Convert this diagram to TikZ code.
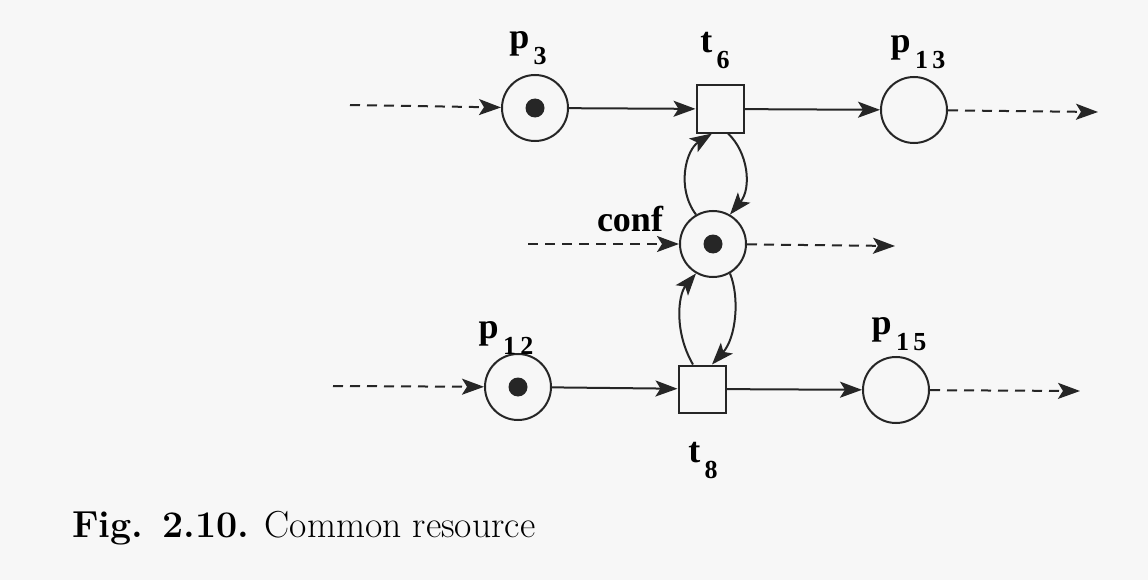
\documentclass[tikz,border=0pt]{standalone}
\usepackage{fontspec}
\newfontfamily\lblfont{Liberation Serif Bold}
\usetikzlibrary{arrows.meta}
\newcommand\mylbl[2]{{\lblfont\fontsize{18}{18}\selectfont #1}\raisebox{-8pt}{\lblfont\fontsize{13}{13}\selectfont\,#2}}
\tikzset{
  place/.style={circle,draw=black!85,line width=1pt,minimum size=33pt,inner sep=0pt},
  trans/.style={rectangle,draw=black!85,line width=1pt,minimum size=23.5pt,inner sep=0pt},
  tok/.style={circle,fill=black!85,minimum size=9.5pt,inner sep=0pt},
  arc/.style={line width=1pt,draw=black!85,-{Stealth[length=11pt,width=8pt,inset=2.5pt]}},
  darc/.style={arc,dash pattern=on 5pt off 3.5pt},
  lbl/.style={inner sep=0pt}
}
\begin{document}
\begin{tikzpicture}[x=0.5pt,y=0.5pt]
\useasboundingbox[fill=black!3] (0,0) rectangle (1148,580);
% nodes
\node[place] (p3) at (535,472) {};
\node[tok] at (p3) {};
\node[trans] (t6) at (720,471) {};
\node[place] (p13) at (914,470) {};
\node[place] (conf) at (713,336) {};
\node[tok] at (conf) {};
\node[place] (p12) at (518,193) {};
\node[tok] at (p12) {};
\node[trans] (t8) at (702,191) {};
\node[place] (p15) at (896,190) {};
% free ends
\coordinate (in3) at (350,475);
\coordinate (out13) at (1098,468);
\coordinate (confin) at (528,336);
\coordinate (confout) at (895,334);
\coordinate (in12) at (333,194);
\coordinate (out15) at (1080,189);
% labels
\node[lbl] (lp3) at (528,532) {\mylbl{p}{3}};
\node[lbl] (lt6) at (715,530) {\mylbl{t}{6}};
\node[lbl] (lp13) at (918,528) {\mylbl{p}{1\,3}};
\node[lbl] (lconf) at (630,361) {\lblfont\fontsize{18}{18}\selectfont conf};
\node[lbl] (lp12) at (506,242) {\mylbl{p}{1\,2}};
\node[lbl] (lp15) at (899,246) {\mylbl{p}{1\,5}};
\node[lbl] (lt8) at (703,120) {\mylbl{t}{8}};
\node[lbl,anchor=base west] (cap) at (72,43) {\fontsize{18.8}{20}\selectfont\textbf{Fig. 2.10.} Common resource};
% connectors
\draw[darc] (in3) -- (p3);
\draw[arc] (p3) -- (t6);
\draw[arc] (t6) -- (p13);
\draw[darc] (p13) -- (out13);
\draw[darc] (confin) -- (conf);
\draw[darc] (conf) -- (confout);
\draw[darc] (in12) -- (p12);
\draw[arc] (p12) -- (t8);
\draw[arc] (t8) -- (p15);
\draw[darc] (p15) -- (out15);
% loops
\draw[arc] (conf.120) .. controls (676,392) and (686,430) .. ([xshift=-4pt]t6.south);
\draw[arc] ([xshift=4pt]t6.south) .. controls (748,428) and (752,392) .. (conf.60);
\draw[arc] ([xshift=-4.5pt]t8.north) .. controls (674,248) and (678,285) .. (conf.240);
\draw[arc] (conf.300) .. controls (740,282) and (736,242) .. ([xshift=5pt]t8.north);
\end{tikzpicture}
\end{document}
